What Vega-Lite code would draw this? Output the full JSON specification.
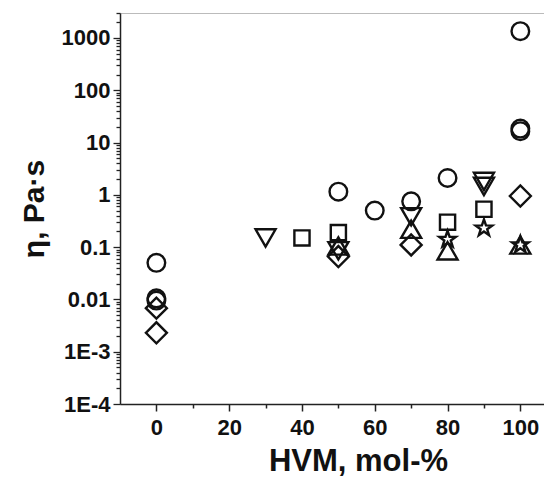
{
  "$schema": "https://vega.github.io/schema/vega-lite/v6.json",
  "autosize": {"type": "none"},
  "padding": {"left": 120, "top": 13, "right": 0, "bottom": 79},
  "width": 428,
  "height": 391,
  "background": "white",
  "config": {
    "view": {"stroke": "#bbbbbb", "strokeWidth": 1},
    "font": "Liberation Sans",
    "point": {"filled": false, "stroke": "#111111", "strokeWidth": 2.4, "opacity": 1, "clip": false}
  },
  "data": {
    "values": [
      {"hvm": 0, "eta": 0.05, "series": "circle"},
      {"hvm": 0, "eta": 0.0105, "series": "circle"},
      {"hvm": 0, "eta": 0.0095, "series": "circle"},
      {"hvm": 50, "eta": 1.15, "series": "circle"},
      {"hvm": 60, "eta": 0.5, "series": "circle"},
      {"hvm": 70, "eta": 0.75, "series": "circle"},
      {"hvm": 80, "eta": 2.1, "series": "circle"},
      {"hvm": 100, "eta": 1350, "series": "circle"},
      {"hvm": 100, "eta": 16.5, "series": "circle"},
      {"hvm": 100, "eta": 18.5, "series": "circle"},
      {"hvm": 40, "eta": 0.15, "series": "square"},
      {"hvm": 50, "eta": 0.19, "series": "square"},
      {"hvm": 80, "eta": 0.3, "series": "square"},
      {"hvm": 90, "eta": 0.53, "series": "square"},
      {"hvm": 30, "eta": 0.15, "series": "triangle-down"},
      {"hvm": 50, "eta": 0.085, "series": "triangle-down"},
      {"hvm": 70, "eta": 0.38, "series": "triangle-down"},
      {"hvm": 90, "eta": 1.8, "series": "triangle-down"},
      {"hvm": 90, "eta": 1.45, "series": "triangle-down"},
      {"hvm": 50, "eta": 0.105, "series": "triangle-up"},
      {"hvm": 70, "eta": 0.22, "series": "triangle-up"},
      {"hvm": 80, "eta": 0.085, "series": "triangle-up"},
      {"hvm": 100, "eta": 0.11, "series": "triangle-up"},
      {"hvm": 0, "eta": 0.0068, "series": "diamond"},
      {"hvm": 0, "eta": 0.0023, "series": "diamond"},
      {"hvm": 50, "eta": 0.066, "series": "diamond"},
      {"hvm": 70, "eta": 0.11, "series": "diamond"},
      {"hvm": 100, "eta": 0.95, "series": "diamond"},
      {"hvm": 80, "eta": 0.14, "series": "star"},
      {"hvm": 90, "eta": 0.23, "series": "star"},
      {"hvm": 100, "eta": 0.11, "series": "star"}
    ]
  },
  "encoding": {
    "x": {
      "field": "hvm",
      "type": "quantitative",
      "scale": {"domain": [-10, 107.6], "nice": false, "zero": false},
      "axis": {
        "values": [0, 10, 20, 30, 40, 50, 60, 70, 80, 90, 100],
        "labelExpr": "datum.value % 20 == 0 ? datum.label : ''",
        "tickSize": {"condition": {"test": "datum.value % 20 == 0", "value": 7}, "value": 4},
        "tickColor": "#222222",
        "tickWidth": 1.5,
        "domainColor": "#222222",
        "domainWidth": 1.5,
        "grid": false,
        "labelFont": "Liberation Sans",
        "labelFontSize": 22,
        "labelFontWeight": "bold",
        "labelColor": "#111111",
        "labelPadding": 6,
        "title": "HVM, mol-%",
        "titleFont": "Liberation Sans",
        "titleFontSize": 31,
        "titleFontWeight": "bold",
        "titleColor": "#111111",
        "titleX": 238,
        "titlePadding": 8
      }
    },
    "y": {
      "field": "eta",
      "type": "quantitative",
      "scale": {"type": "log", "domain": [0.0001, 3000], "nice": false},
      "axis": {
        "values": [0.0001, 0.0002, 0.0003, 0.0004, 0.0005, 0.0006, 0.0007, 0.0008, 0.0009,
                   0.001, 0.002, 0.003, 0.004, 0.005, 0.006, 0.007, 0.008, 0.009,
                   0.01, 0.02, 0.03, 0.04, 0.05, 0.06, 0.07, 0.08, 0.09,
                   0.1, 0.2, 0.3, 0.4, 0.5, 0.6, 0.7, 0.8, 0.9,
                   1, 2, 3, 4, 5, 6, 7, 8, 9,
                   10, 20, 30, 40, 50, 60, 70, 80, 90,
                   100, 200, 300, 400, 500, 600, 700, 800, 900,
                   1000, 2000, 3000],
        "labelExpr": "abs(log(datum.value)/LN10 - round(log(datum.value)/LN10)) < 0.000001 ? (datum.value >= 0.01 ? toString(datum.value) : '1E' + round(log(datum.value)/LN10)) : ''",
        "tickSize": {"condition": {"test": "abs(log(datum.value)/LN10 - round(log(datum.value)/LN10)) < 0.000001", "value": 7}, "value": 4},
        "tickColor": "#222222",
        "tickWidth": 1.3,
        "domainColor": "#222222",
        "domainWidth": 1.5,
        "grid": false,
        "labelFont": "Liberation Sans",
        "labelFontSize": 22,
        "labelFontWeight": "bold",
        "labelColor": "#111111",
        "labelPadding": 3,
        "labelOverlap": false,
        "labelBound": false,
        "title": "η, Pa·s",
        "titleFont": "Liberation Sans",
        "titleFontSize": 30,
        "titleFontWeight": "bold",
        "titleColor": "#111111",
        "titlePadding": 12
      }
    }
  },
  "layer": [
    {"transform": [{"filter": "datum.series == 'circle'"}], "mark": {"type": "point", "shape": "circle", "size": 310}},
    {"transform": [{"filter": "datum.series == 'square'"}], "mark": {"type": "point", "shape": "square", "size": 230}},
    {"transform": [{"filter": "datum.series == 'triangle-up'"}], "mark": {"type": "point", "shape": "triangle-up", "size": 400}},
    {"transform": [{"filter": "datum.series == 'triangle-down'"}], "mark": {"type": "point", "shape": "triangle-down", "size": 400}},
    {"transform": [{"filter": "datum.series == 'diamond'"}], "mark": {"type": "point", "shape": "diamond", "size": 440}},
    {"transform": [{"filter": "datum.series == 'star'"}], "mark": {"type": "point", "shape": "M0,-0.85L0.2,-0.27L0.81,-0.26L0.32,0.1L0.5,0.69L0,0.33L-0.5,0.69L-0.32,0.1L-0.81,-0.26L-0.2,-0.27Z", "size": 420}}
  ]
}
